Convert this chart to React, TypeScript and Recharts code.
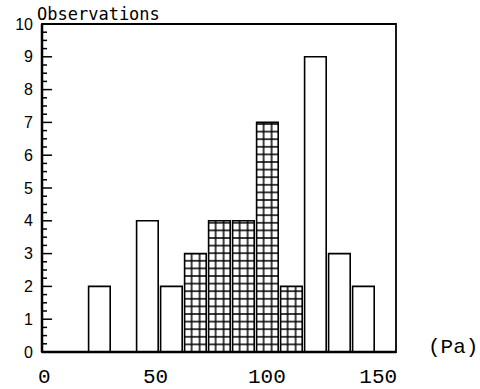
import { BarChart, Bar, XAxis, YAxis, Cell, ReferenceArea, ReferenceLine, Label } from "recharts"

// pressure bins (Pa), mid points and their counts
const binMids = [25, 35, 45, 55, 65, 75, 85, 95, 105, 115, 125, 135]
const counts = [2, 0, 4, 2, 3, 4, 4, 7, 2, 9, 3, 2]
const hatched = [false, false, false, false, true, true, true, true, true, false, false, false]

const yTicks = [0, 1, 2, 3, 4, 5, 6, 7, 8, 9, 10]
const yMinorTicks = [
  0.25, 0.5, 0.75, 1.25, 1.5, 1.75, 2.25, 2.5, 2.75, 3.25, 3.5, 3.75,
  4.25, 4.5, 4.75, 5.25, 5.5, 5.75, 6.25, 6.5, 6.75, 7.25, 7.5, 7.75,
  8.25, 8.5, 8.75, 9.25, 9.5, 9.75,
]
const xTicks = [0, 50, 100, 150]

const data = binMids.map((mid, i) => ({ mid, count: counts[i], hatched: hatched[i] }))

const X0 = 1 // left edge of the bins axis
const MAJOR_LEN = 4.2
const MINOR_LEN = 2.1

export default function App() {
  return (
    <div style={{ position: "absolute", left: 0, top: 0, background: "#fff" }}>
      <BarChart
        width={480}
        height={389}
        data={data}
        margin={{ top: 24, right: 84, bottom: 0, left: 0 }}
        barCategoryGap={0}
        barGap={0}
      >
        <defs>
          <pattern id="grid" patternUnits="userSpaceOnUse" x={179.6} y={348.2} width={8} height={7.6}>
            <rect x={0} y={0} width={8} height={7.6} fill="#fff" />
            <line x1={4} y1={0} x2={4} y2={7.6} stroke="#000" strokeWidth={1.5} />
            <line x1={0} y1={3.8} x2={8} y2={3.8} stroke="#000" strokeWidth={1.5} />
          </pattern>
        </defs>
        <XAxis
          xAxisId="bins"
          type="number"
          dataKey="mid"
          domain={[X0, 148.5]}
          allowDataOverflow
          height={0}
          hide
        />
        <XAxis
          xAxisId="pa"
          type="number"
          dataKey="mid"
          scale="linear"
          domain={[-1, 158]}
          allowDataOverflow
          ticks={xTicks}
          interval={0}
          height={37}
          tickSize={0}
          tickMargin={16}
          tickLine={false}
          axisLine={{ stroke: "#000", strokeWidth: 2.5 }}
          tick={{ fill: "#000", fontSize: 21, fontFamily: "Liberation Mono" }}
        >
          <Label
            value="(Pa)"
            position="right"
            offset={32}
            dy={-25}
            fill="#000"
            fontSize={21}
            fontFamily="Liberation Mono"
          />
        </XAxis>
        <YAxis
          yAxisId={0}
          type="number"
          domain={[0, 10]}
          ticks={yTicks}
          interval={0}
          width={42}
          tickSize={0}
          tickMargin={9}
          tickLine={false}
          axisLine={{ stroke: "#000", strokeWidth: 2.5 }}
          tick={{ fill: "#000", fontSize: 16, fontFamily: "Liberation Sans" }}
        >
          <Label
            content={({ viewBox }: any) => (
              <text
                x={viewBox.x + 37}
                y={viewBox.y - 4}
                fill="#000"
                fontSize={17}
                fontFamily="DejaVu Sans Mono"
              >
                Observations
              </text>
            )}
          />
        </YAxis>
        <ReferenceArea
          xAxisId="bins"
          yAxisId={0}
          x1={X0}
          x2={148.5}
          y1={0}
          y2={10}
          fill="none"
          fillOpacity={0}
          stroke="#000"
          strokeWidth={1.8}
        />
        {yMinorTicks.map((v) => (
          <ReferenceLine
            key={`mn${v}`}
            xAxisId="bins"
            yAxisId={0}
            segment={[{ x: X0, y: v }, { x: X0 + MINOR_LEN, y: v }]}
            stroke="#000"
            strokeWidth={1.5}
          />
        ))}
        {yTicks.map((v) => (
          <ReferenceLine
            key={`mj${v}`}
            xAxisId="bins"
            yAxisId={0}
            segment={[{ x: X0, y: v }, { x: X0 + MAJOR_LEN, y: v }]}
            stroke="#000"
            strokeWidth={1.5}
          />
        ))}
        <Bar
          xAxisId="bins"
          yAxisId={0}
          dataKey="count"
          barSize={24}
          stroke="#000"
          strokeWidth={1.6}
          isAnimationActive={false}
        >
          {data.map((d, i) => (
            <Cell key={i} fill={d.hatched ? "url(#grid)" : "#fff"} />
          ))}
        </Bar>
      </BarChart>
    </div>
  )
}
